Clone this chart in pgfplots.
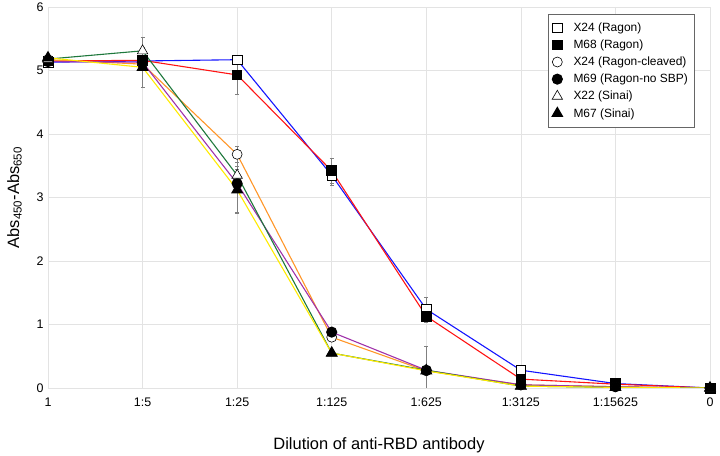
\documentclass[border=0pt]{standalone}
\usepackage{fontspec}
\setmainfont{Liberation Sans}
\usepackage{pgfplots}
\pgfplotsset{compat=1.18}

\definecolor{cblue}{RGB}{20,20,255}
\definecolor{cred}{RGB}{255,20,20}
\definecolor{corange}{RGB}{255,150,40}
\definecolor{cpurple}{RGB}{160,50,170}
\definecolor{cgreen}{RGB}{30,120,60}
\definecolor{cyellow}{RGB}{255,235,0}

\pgfplotsset{
    opensq/.style={mark=square*, mark size=4.8bp, mark options={draw=black, fill=white, line width=0.6pt}},
    fullsq/.style={mark=square*, mark size=4.8bp, mark options={draw=black, fill=black}},
    opencirc/.style={mark=*, mark size=5bp, mark options={draw=black, fill=white, line width=0.6pt}},
    fullcirc/.style={mark=*, mark size=5bp, mark options={draw=black, fill=black}},
    opentri/.style={mark=triangle*, mark size=6bp, mark options={draw=black, fill=white, line width=0.6pt}},
    fulltri/.style={mark=triangle*, mark size=6bp, mark options={draw=black, fill=black}},
}

\begin{document}
\begin{tikzpicture}
\useasboundingbox (0,0) rectangle (720bp,456bp);
\begin{axis}[
    at={(48bp,68bp)}, anchor=south west,
    scale only axis,
    width=662bp, height=381bp,
    xmin=0, xmax=7, ymin=0, ymax=6,
    xtick={0,...,7},
    xticklabels={1,1:5,1:25,1:125,1:625,1:3125,1:15625,0},
    ytick={0,...,6},
    grid=major,
    grid style={gray!22, line width=0.6pt},
    axis line style={gray!22, line width=0.6pt},
    major tick length=0pt,
    tick label style={font=\fontsize{12.5}{14}\selectfont},
    /pgf/number format/assume math mode=true,
    xticklabel style={yshift=-6bp},
    yticklabel style={xshift=-1bp},
    xlabel={Dilution of anti-RBD antibody},
    xlabel style={font=\fontsize{16.5}{19}\selectfont, yshift=-24bp},
    ylabel={Abs\textsubscript{450}-Abs\textsubscript{650}},
    ylabel style={font=\fontsize{16.5}{19}\selectfont, yshift=8bp},
    legend style={at={(rel axis cs:0.976,0.982)}, anchor=north east,
        draw=gray!80!black, line width=0.6pt,
        font=\fontsize{12}{14}\selectfont, row sep=3bp,
        inner xsep=4bp, inner ysep=6.5bp,
        /tikz/every odd column/.append style={column sep=9bp}},
    legend image code/.code={\draw[#1] plot coordinates {(0bp,0bp)};},
    legend cell align=left,
    every axis plot/.append style={line width=1.1pt},
    error bars/error bar style={gray, line width=0.6pt},
    error bars/error mark options={gray, rotate=90, mark size=2bp, line width=0.6pt},
]
% X24 (Ragon)
\addplot[cblue, opensq, forget plot,
    error bars/.cd, y dir=both, y explicit] coordinates {
    (0,5.13) (1,5.15) (2,5.17) +- (0,0.05) (3,3.35) +- (0,0.15) (4,1.24) +- (0,0.19) (5,0.28) (6,0.07) (7,0.0)
};
% M68 (Ragon)
\addplot[cred, fullsq, forget plot,
    error bars/.cd, y dir=both, y explicit] coordinates {
    (0,5.15) (1,5.16) (2,4.93) +- (0,0.3) (3,3.42) +- (0,0.2) (4,1.13) +- (0,0.1) (5,0.14) (6,0.06) (7,0.0)
};
% X24 (Ragon-cleaved)
\addplot[corange, opencirc, forget plot,
    error bars/.cd, y dir=both, y explicit] coordinates {
    (0,5.17) (1,5.10) (2,3.68) +- (0,0.12) (3,0.80) (4,0.27) (5,0.05) (6,0.02) (7,0.0)
};
% M69 (Ragon-no SBP)
\addplot[cpurple, fullcirc, forget plot,
    error bars/.cd, y dir=both, y explicit] coordinates {
    (0,5.14) (1,5.13) (2,3.22) +- (0,0.45) (3,0.88) (4,0.28) (5,0.05) (6,0.02) (7,0.0)
};
% X22 (Sinai)
\addplot[cgreen, opentri, forget plot,
    error bars/.cd, y dir=both, y explicit] coordinates {
    (0,5.18) (1,5.31) +- (0,0.22) (2,3.35) +- (0,0.1) (3,0.55) (4,0.28) +- (0,0.37) (5,0.03) (6,0.01) (7,0.0)
};
% M67 (Sinai)
\addplot[cyellow, fulltri, forget plot,
    error bars/.cd, y dir=both, y explicit] coordinates {
    (0,5.20) (1,5.05) +- (0,0.32) (2,3.12) +- (0,0.37) (3,0.55) (4,0.27) (5,0.03) (6,0.01) (7,0.0)
};
\addlegendimage{only marks, opensq}\addlegendentry{X24 (Ragon)}
\addlegendimage{only marks, fullsq}\addlegendentry{M68 (Ragon)}
\addlegendimage{only marks, opencirc}\addlegendentry{X24 (Ragon-cleaved)}
\addlegendimage{only marks, fullcirc}\addlegendentry{M69 (Ragon-no SBP)}
\addlegendimage{only marks, opentri}\addlegendentry{X22 (Sinai)}
\addlegendimage{only marks, fulltri}\addlegendentry{M67 (Sinai)}
\end{axis}
\end{tikzpicture}
\end{document}
